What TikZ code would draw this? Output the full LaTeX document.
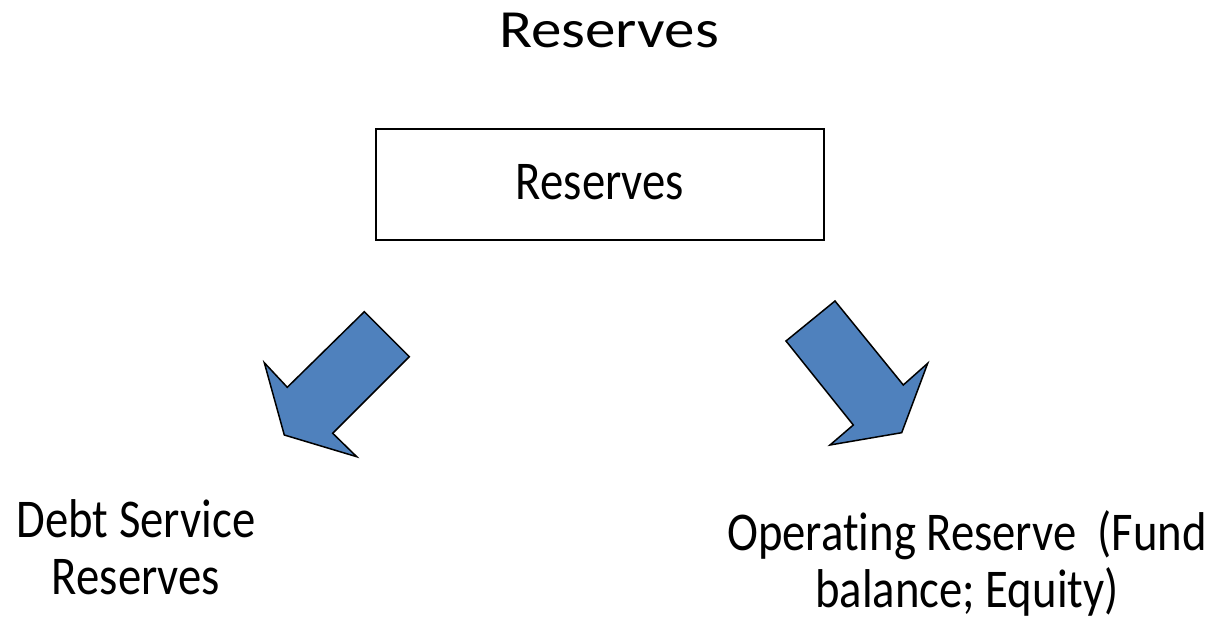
\documentclass[tikz,border=0pt]{standalone}
\usepackage{fontspec}
\usepackage{graphicx}
\setmainfont[Ligatures=CommonOff]{Carlito}
\definecolor{arrowblue}{HTML}{4F81BD}
\tikzset{
  bigarrow/.style={draw=black, line width=1.5pt, fill=arrowblue, line join=miter},
  boxnode/.style={draw=black, line width=2pt, minimum width=448pt, minimum height=111pt, inner sep=0pt},
  lbl/.style={inner sep=0pt, font=\fontsize{46.7}{48.6}\selectfont},
  titlelbl/.style={inner sep=0pt, font=\fontsize{61}{70}\selectfont}
}
\begin{document}
\begin{tikzpicture}[x=1pt,y=-1pt]
\useasboundingbox (0,0) rectangle (1219,620);
\node[titlelbl, anchor=base] (title) at (609,48) {\scalebox{1}[0.88]{Reserves}};
\node[boxnode] (box) at (600,184.5) {};
\node[lbl, anchor=base] (boxtext) at (box.center |- 0,200) {\scalebox{1}[1.17]{Reserves}};
\draw[bigarrow] (364.3,311.7) -- (409.3,356.7) -- (332.7,433.3) -- (356.7,456.7) -- (284.3,435) -- (264.3,362.7) -- (287.3,387.3) -- cycle;
\draw[bigarrow] (835,301) -- (903.3,385) -- (927.7,363.3) -- (901.7,432.7) -- (830,445) -- (853.3,425) -- (786,341) -- cycle;
\node[lbl] (debt) at (136,555) {\scalebox{1}[1.17]{\begin{tabular}{@{}c@{}}Debt Service\\Reserves\end{tabular}}};
\node[lbl] (oper) at (967,568) {\scalebox{1}[1.17]{\begin{tabular}{@{}c@{}}Operating Reserve~~(Fund\\balance; Equity)\end{tabular}}};
\end{tikzpicture}
\end{document}
